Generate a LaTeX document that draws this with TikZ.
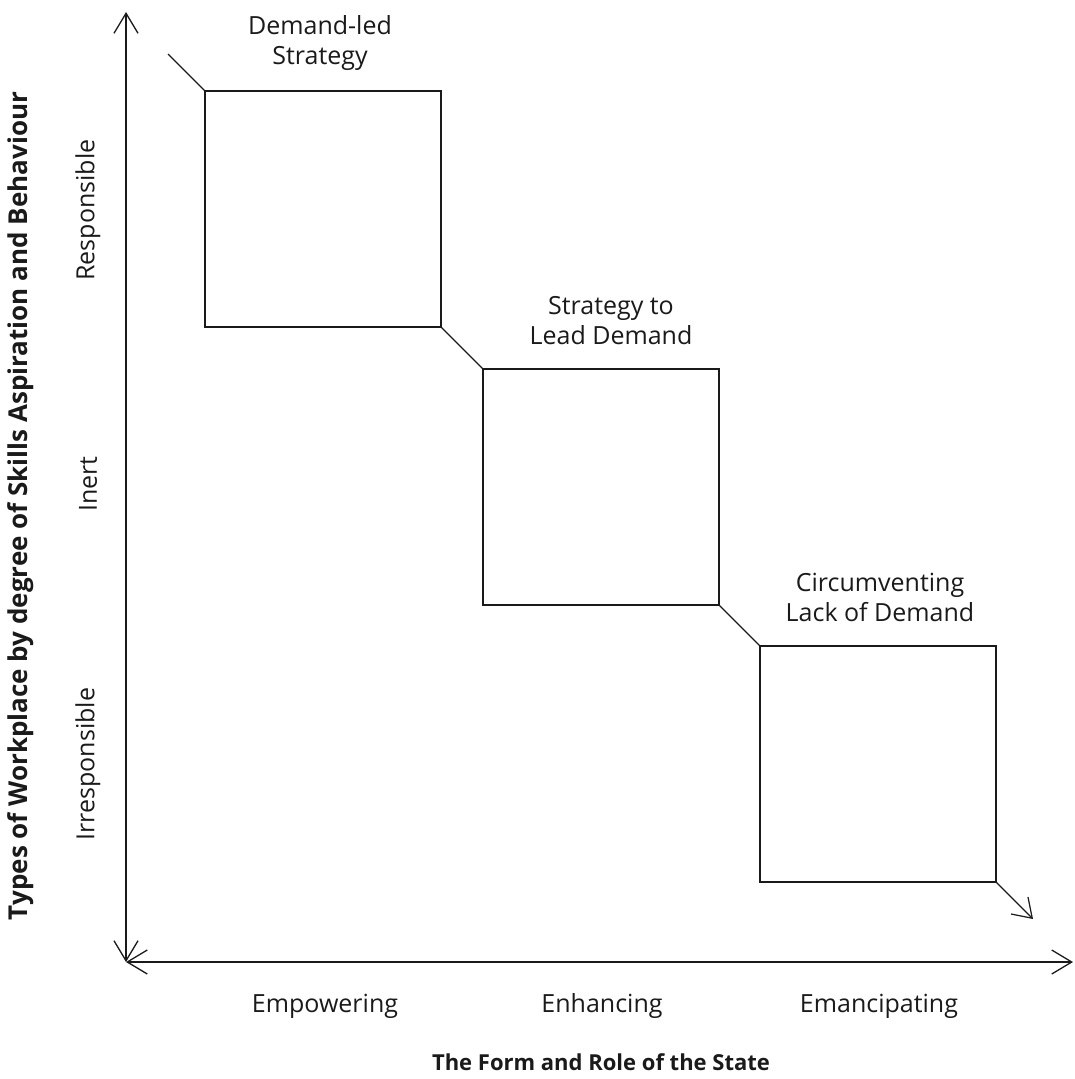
\documentclass[tikz,border=0pt]{standalone}
\usepackage{fontspec}
\setmainfont{Open Sans}
\usetikzlibrary{arrows.meta}
\definecolor{ink}{HTML}{1A1A1A}
\begin{document}
\begin{tikzpicture}[x=1pt,y=-1pt,
  ink/.style={draw=ink,line width=1.3pt},
  axis/.style={ink,line width=1.6pt,{Straight Barb[length=20pt,width=24pt,line width=1.3pt]}-{Straight Barb[length=20pt,width=24pt,line width=1.3pt]}},
  stage/.style={ink,line width=1.2pt,rectangle,minimum width=236pt,minimum height=236pt,inner sep=0pt},
  link/.style={ink,line width=1.2pt},
  lbl/.style={text=ink,font=\fontsize{25}{30}\selectfont,align=center,inner sep=0pt},
  ttl/.style={text=ink,font=\fontsize{22}{30}\selectfont\bfseries,inner sep=0pt},
  yttl/.style={text=ink,font=\fontsize{26}{30}\selectfont\bfseries,inner sep=0pt}]
\useasboundingbox (0,0) rectangle (1074,1079);

% axes
\coordinate (o) at (126,962);
\coordinate (ytop) at (126,12);
\coordinate (xend) at (1073,962);
\draw[axis] (o) -- (ytop);
\draw[axis] (o) -- (xend);

% stage boxes
\node[stage,draw] (b1) at (323,209) {};
\node[stage,draw] (b2) at (601,487) {};
\node[stage,draw] (b3) at (878,764) {};

% diagonal path through the stages
\coordinate (start) at (168,54);
\coordinate (finish) at (1033,919);
\draw[link] (start) -- (b1.north west);
\draw[link] (b1.south east) -- (b2.north west);
\draw[link] (b2.south east) -- (b3.north west);
\draw[link,-{Straight Barb[length=18pt,width=24pt,line width=1.2pt]}] (b3.south east) -- (finish);

% stage labels
\node[lbl] (l1) at (320,43) {Demand-led\\Strategy};
\node[lbl] (l2) at (611,321) {Strategy to\\Lead Demand};
\node[lbl] (l3) at (880,597) {Circumventing\\Lack of Demand};

% vertical axis categories
\node[lbl,rotate=90] (r1) at (88,210) {Responsible};
\node[lbl,rotate=90] (r2) at (88,484) {Inert};
\node[lbl,rotate=90] (r3) at (88,764) {Irresponsible};
\node[yttl,rotate=90] (yt) at (21,506) {Types of Workplace by degree of Skills Aspiration and Behaviour};

% horizontal axis categories
\node[lbl] (c1) at (325,1006) {Empowering};
\node[lbl] (c2) at (602,1006) {Enhancing};
\node[lbl] (c3) at (879,1006) {Emancipating};
\node[ttl] (xt) at (601,1062) {The Form and Role of the State};
\end{tikzpicture}
\end{document}
